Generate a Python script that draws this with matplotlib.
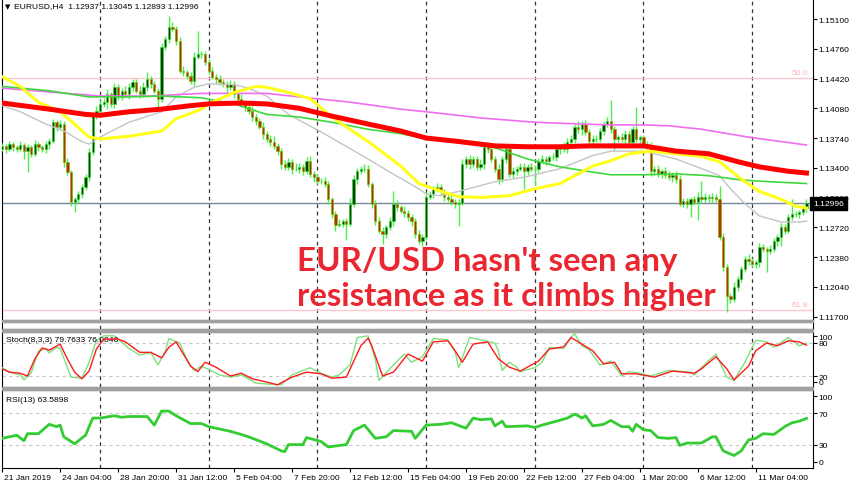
import matplotlib
matplotlib.use("Agg")
import matplotlib.pyplot as plt
import matplotlib.transforms as mtrans
from matplotlib.patches import Rectangle
import numpy as np

plt.rcParams['font.family'] = ['Liberation Sans', 'DejaVu Sans']

W, H = 852, 485
SMALL = 6.1

# EURUSD H4 closes, one per bar (21 Jan 12:00 -> 13 Mar 12:00)
closes = [
    1.1365, 1.1361, 1.1367, 1.1364, 1.1361, 1.1366, 1.1359, 1.1364, 1.1356, 1.1367, 1.1364, 1.1361, 1.1367, 1.1371,
    1.1392, 1.1387, 1.1390, 1.1347, 1.1335, 1.1301, 1.1304, 1.1310, 1.1318, 1.1329, 1.1358, 1.1399, 1.1405, 1.1413,
    1.1415, 1.1424, 1.1413, 1.1432, 1.1421, 1.1428, 1.1424, 1.1432, 1.1438, 1.1428, 1.1424, 1.1432, 1.1441, 1.1436, 1.1428, 1.1419,
    1.1478, 1.1487, 1.1501, 1.1499, 1.1485, 1.1451, 1.1449, 1.1445, 1.1439, 1.1467, 1.1470, 1.1470, 1.1461, 1.1451,
    1.1444, 1.1441, 1.1438, 1.1436, 1.1432, 1.1436, 1.1424, 1.1419, 1.1413, 1.1409, 1.1405, 1.1398, 1.1393, 1.1387, 1.1379,
    1.1373, 1.1370, 1.1365, 1.1359, 1.1344, 1.1341, 1.1347, 1.1339, 1.1339, 1.1341, 1.1336, 1.1348, 1.1333, 1.1329, 1.1325,
    1.1325, 1.1321, 1.1304, 1.1287, 1.1275, 1.1276, 1.1279, 1.1276, 1.1299, 1.1327, 1.1336, 1.1339, 1.1339, 1.1321, 1.1299,
    1.1279, 1.1268, 1.1264, 1.1272, 1.1279, 1.1299, 1.1295, 1.1291, 1.1288, 1.1284, 1.1279, 1.1264, 1.1256, 1.1261, 1.1307,
    1.1310, 1.1316, 1.1318, 1.1313, 1.1307, 1.1304, 1.1301, 1.1299, 1.1300, 1.1344, 1.1350, 1.1344, 1.1350, 1.1341, 1.1344,
    1.1364, 1.1361, 1.1350, 1.1339, 1.1327, 1.1350, 1.1361, 1.1333, 1.1336, 1.1339, 1.1341, 1.1336, 1.1341, 1.1339, 1.1339,
    1.1348, 1.1350, 1.1348, 1.1352, 1.1352, 1.1361, 1.1364, 1.1361, 1.1370, 1.1373, 1.1387, 1.1384, 1.1390, 1.1381, 1.1371,
    1.1373, 1.1373, 1.1382, 1.1390, 1.1393, 1.1384, 1.1373, 1.1375, 1.1373, 1.1379, 1.1370, 1.1384, 1.1373, 1.1375, 1.1367,
    1.1364, 1.1336, 1.1339, 1.1333, 1.1336, 1.1332, 1.1329, 1.1332, 1.1327, 1.1299, 1.1302, 1.1299, 1.1304, 1.1301, 1.1307,
    1.1304, 1.1307, 1.1305, 1.1307, 1.1304, 1.1261, 1.1227, 1.1193, 1.1190, 1.1204, 1.1213, 1.1224, 1.1236, 1.1233, 1.1230,
    1.1232, 1.1249, 1.1247, 1.1245, 1.1247, 1.1256, 1.1261, 1.1272, 1.1268, 1.1284, 1.1287, 1.1287, 1.1289, 1.12937, 1.12996,
]
first_open = 1.1362

# wick lengths in pips above / below the body
up_wick = [
    3, 2, 4, 3, 2, 5, 2, 3, 2, 5, 3, 2, 4, 3, 4, 3, 5, 3, 4, 2, 3, 3, 4, 4, 5, 4, 6,
    4, 5, 6, 3, 5, 4, 3, 6, 5, 4, 3, 5, 6, 8, 4, 3, 3, 5, 4, 12, 6, 3, 4, 5, 3, 4, 5, 26, 4, 3,
    3, 4, 3, 5, 4, 3, 4, 3, 4, 5, 3, 4, 6, 3, 4, 5, 3, 4, 6, 3, 4, 5, 4, 3, 6, 4, 3, 4, 5, 3,
    4, 3, 5, 4, 3, 4, 5, 3, 4, 6, 5, 4, 3, 5, 4, 3, 4, 5, 4, 3, 5, 14, 4, 3, 5, 4, 3, 4, 5, 3,
    5, 4, 3, 5, 4, 3, 4, 5, 3, 4, 6, 4, 5, 3, 4, 6, 3, 5, 4, 3, 5, 4, 3, 4, 5, 3, 4, 5, 3, 4,
    4, 3, 5, 4, 3, 5, 4, 3, 6, 4, 5, 3, 6, 4, 5, 3, 4, 5, 3, 4, 5, 25, 4, 3, 5, 4, 3, 4, 25, 3,
    3, 4, 5, 3, 4, 3, 5, 4, 3, 4, 5, 3, 4, 3, 4, 5, 18, 4, 3, 4, 3, 15, 4, 3, 4, 5, 3, 4, 3, 5,
    4, 3, 5, 4, 3, 5, 4, 3, 5, 4, 3, 17, 4, 3, 4, 5,
]
down_wick = [
    3, 4, 2, 5, 3, 2, 9, 24, 4, 3, 5, 3, 4, 6, 3, 5, 4, 6, 3, 5, 11, 4, 5, 3, 4, 3, 3,
    3, 4, 8, 3, 5, 3, 4, 3, 5, 4, 3, 4, 3, 4, 5, 3, 11, 4, 3, 4, 3, 5, 3, 4, 4, 3, 5, 3, 4, 3,
    4, 3, 5, 3, 4, 6, 3, 4, 5, 3, 4, 3, 5, 4, 3, 6, 4, 5, 3, 4, 5, 3, 4, 6, 3, 5, 4, 3, 4, 5,
    3, 4, 3, 5, 4, 7, 3, 4, 19, 3, 4, 5, 3, 4, 3, 5, 4, 3, 11, 4, 3, 5, 4, 3, 4, 5, 6, 4, 3, 5,
    4, 3, 5, 3, 4, 5, 3, 4, 5, 26, 3, 4, 5, 3, 4, 3, 5, 4, 3, 4, 5, 3, 4, 3, 5, 4, 3, 20, 4, 3,
    19, 4, 3, 5, 4, 3, 4, 5, 3, 4, 3, 5, 4, 6, 3, 4, 5, 3, 4, 5, 3, 4, 14, 3, 4, 5, 3, 4, 3, 5,
    4, 3, 5, 4, 3, 5, 4, 3, 5, 4, 3, 4, 5, 15, 4, 21, 4, 3, 4, 5, 3, 4, 5, 18, 4, 3, 5, 4, 3, 4,
    3, 4, 5, 3, 24, 4, 3, 5, 10, 4, 3, 4, 3, 4, 3, 4,
]

# moving averages, read at (bar, price)
ma_red_bars = [0, 13, 23, 27, 35, 44, 52, 57, 66, 73, 82, 91, 101, 110, 117, 126, 136, 145, 154, 162, 177, 186, 195, 203, 209, 217, 222]
ma_red = [1.1414, 1.1407, 1.1401, 1.1400, 1.1404, 1.1407, 1.1411, 1.1413, 1.1414, 1.1413, 1.1408, 1.1399, 1.1390, 1.1382,
          1.1374, 1.1370, 1.1365, 1.1364, 1.1364, 1.1365, 1.1365, 1.1359, 1.1356, 1.1347, 1.1341, 1.1336, 1.1334]
ma_magenta_bars = [0, 27, 41, 55, 73, 82, 96, 110, 117, 132, 147, 160, 168, 177, 184, 193, 206, 222]
ma_magenta = [1.1431, 1.1422, 1.1422, 1.1425, 1.1425, 1.1421, 1.1415, 1.1407, 1.1404, 1.1397, 1.1392, 1.1390, 1.1389,
              1.1389, 1.1388, 1.1384, 1.1375, 1.1366]
ma_green_bars = [0, 13, 24, 35, 44, 55, 64, 73, 82, 91, 101, 110, 117, 126, 136, 145, 154, 163, 168, 177, 186, 195, 204, 212, 222]
ma_green = [1.1433, 1.1428, 1.1421, 1.1421, 1.1422, 1.1420, 1.1413, 1.1401, 1.1398, 1.1392, 1.1384, 1.1379, 1.1373,
            1.1370, 1.1363, 1.1350, 1.1341, 1.1335, 1.1332, 1.1332, 1.1333, 1.1331, 1.1326, 1.1324, 1.1322]
ma_yellow_bars = [0, 5, 10, 16, 20, 24, 27, 35, 44, 48, 55, 57, 64, 70, 73, 79, 85, 91, 101, 110, 115, 122, 126, 132,
                  140, 147, 154, 163, 168, 173, 179, 186, 193, 198, 204, 209, 215, 219, 222]
ma_yellow = [1.1444, 1.1433, 1.1415, 1.1404, 1.1390, 1.1375, 1.1373, 1.1376, 1.1382, 1.1396, 1.1407, 1.1413, 1.1426,
             1.1433, 1.1432, 1.1426, 1.1419, 1.1398, 1.1370, 1.1342, 1.1322, 1.1312, 1.1307, 1.1306, 1.1308, 1.1316,
             1.1322, 1.1342, 1.1348, 1.1356, 1.1359, 1.1356, 1.1353, 1.1347, 1.1327, 1.1313, 1.1304, 1.1296, 1.1294]
ma_gray_bars = [0, 5, 12, 17, 22, 24, 27, 35, 44, 48, 53, 57, 64, 68, 73, 79, 88, 96, 101, 107, 115, 117, 121, 126,
                136, 145, 154, 163, 168, 177, 186, 195, 198, 201, 205, 209, 215, 220, 222]
ma_gray = [1.1411, 1.1404, 1.1390, 1.1382, 1.1370, 1.1367, 1.1375, 1.1392, 1.1404, 1.1421, 1.1432, 1.1436, 1.1435,
           1.1431, 1.1422, 1.1401, 1.1381, 1.1362, 1.1350, 1.1335, 1.1316, 1.1310, 1.1308, 1.1313, 1.1324, 1.1330,
           1.1339, 1.1354, 1.1359, 1.1359, 1.1350, 1.1336, 1.1331, 1.1316, 1.1299, 1.1285, 1.1278, 1.1278, 1.1279]

fib_50 = 1.1443
fib_618 = 1.11775
last_price = 1.12996

# Stochastic (8,3,3)
stoch_k_bars = [0, 2, 5, 6, 8, 10, 12, 13, 15, 16, 19, 22, 24, 26, 28, 31, 35, 38, 41, 43, 45, 46, 49, 51, 53, 55, 57,
                60, 63, 66, 68, 70, 74, 77, 80, 83, 85, 88, 91, 93, 96, 98, 101, 103, 104, 108, 111, 113, 116, 119,
                123, 125, 126, 129, 132, 136, 137, 138, 140, 142, 143, 147, 149, 151, 155, 157, 158, 160, 162, 165,
                168, 171, 173, 176, 179, 184, 190, 191, 195, 197, 200, 202, 205, 208, 211, 213, 217, 220, 222]
stoch_k = [35, 27, 22, 13, 25, 65, 70, 62, 72, 70, 18, 16, 45, 85, 93, 93, 70, 58, 63, 40, 65, 88, 80, 50, 30, 38, 32,
           22, 18, 22, 15, 7, 5, 4, 22, 30, 35, 25, 18, 22, 40, 90, 93, 50, 12, 40, 60, 45, 55, 88,
           86, 65, 35, 90, 86, 80, 65, 30, 45, 36, 28, 35, 45, 72, 70, 90, 97, 75, 68, 40,
           47, 20, 28, 25, 20, 30, 27, 22, 48, 60, 18, 12, 45, 85, 82, 72, 90, 75, 79.76]
stoch_d_bars = [0, 2, 5, 7, 9, 11, 13, 16, 18, 20, 22, 24, 26, 28, 32, 34, 38, 41, 44, 46, 48, 52, 54, 56, 59, 63, 66,
                69, 73, 76, 80, 84, 88, 91, 95, 99, 101, 102, 105, 108, 112, 116, 119, 123, 125, 127, 130, 134, 137,
                140, 143, 148, 151, 155, 157, 160, 163, 166, 169, 171, 175, 180, 185, 191, 193, 197, 200, 202, 206,
                208, 211, 214, 217, 220, 222]
stoch_d = [33, 27, 25, 20, 51, 71, 67, 78, 51, 27, 15, 29, 69, 87, 87, 82, 63, 63, 53, 72, 82, 38, 28, 45, 36, 20, 25,
           15, 9, 4, 18, 27, 24, 16, 18, 75, 89, 75, 20, 27, 60, 47, 82, 84, 66, 45, 78, 82, 51,
           36, 29, 47, 69, 73, 90, 78, 66, 42, 45, 24, 24, 18, 29, 25, 33, 55, 33, 13, 38,
           66, 80, 75, 84, 82, 76.08]

# RSI(13)
rsi_bars = [0, 4, 6, 7, 10, 13, 15, 16, 17, 20, 23, 25, 27, 31, 33, 35, 40, 42, 44, 46, 48, 52, 55, 57, 63, 66, 68,
            73, 77, 78, 79, 82, 83, 84, 88, 90, 95, 97, 100, 103, 106, 108, 113, 114, 117, 121, 124, 128, 130, 132,
            135, 136, 138, 139, 145, 147, 149, 153, 156, 158, 159, 160, 161, 163, 166, 168, 171, 173, 174, 175,
            177, 179, 181, 184, 186, 187, 189, 193, 196, 197, 199, 202, 204, 206, 208, 210, 213, 216, 218, 220, 222]
rsi = [38, 42, 35, 44, 44, 56, 53, 55, 40, 31, 42, 64, 64, 67, 65, 66, 66, 55, 73, 73, 67, 57, 57, 53, 47, 43, 40,
       31, 22, 21, 30, 30, 30, 39, 34, 27, 30, 48, 55, 38, 40, 48, 47, 38, 55, 56, 58, 51, 64, 62,
       63, 54, 60, 53, 54, 52, 55, 60, 64, 69, 67, 64, 67, 54, 56, 61, 53, 53, 47, 56,
       49, 48, 39, 38, 39, 29, 32, 32, 40, 40, 22, 16, 22, 36, 38, 44, 43, 53, 58, 60, 63.59]

week_starts = [27, 57, 87, 117, 147, 177, 207]
date_ticks = [0, 16, 32, 48, 64, 80, 96, 112, 128, 144, 160, 176, 192, 208]
date_labels = ["21 Jan 2019", "24 Jan 04:00", "28 Jan 20:00", "31 Jan 12:00", "5 Feb 04:00", "7 Feb 20:00",
               "12 Feb 12:00", "15 Feb 04:00", "19 Feb 20:00", "22 Feb 12:00", "27 Feb 04:00", "1 Mar 20:00",
               "6 Mar 12:00", "11 Mar 04:00"]
price_ticks = [1.11700, 1.12040, 1.12380, 1.12720, 1.13060, 1.13400, 1.13740, 1.14080, 1.14420, 1.14760, 1.15100]

assert len(closes) == len(up_wick) == len(down_wick) == 223

closes = np.array(closes)
idx = np.arange(len(closes))
opens = np.r_[first_open, closes[:-1]]
highs = np.maximum(opens, closes) + np.array(up_wick) * 1e-4
lows = np.minimum(opens, closes) - np.array(down_wick) * 1e-4
bull = closes >= opens

fig = plt.figure(figsize=(W / 100, H / 100), dpi=100)
fig.patch.set_facecolor('white')


def panel(x0, y0, x1, y1):
    a = fig.add_axes([x0 / W, 1 - y1 / H, (x1 - x0) / W, (y1 - y0) / H])
    a.set_xlim(-0.05, 223.8)
    for s in a.spines.values():
        s.set_linewidth(0.8)
        s.set_color('black')
    a.tick_params(axis='x', bottom=False, labelbottom=False)
    return a


ax = panel(2, 0, 813, 321)
ax_sep = panel(2, 323, 813, 330)
ax_st = panel(2, 333, 813, 388)
ax_rsi = panel(2, 391, 813, 469)
ax.spines['top'].set_visible(False)

# splitter bars between the windows
for y0, y1 in [(320.5, 323), (330, 333), (388, 391)]:
    fig.patches.append(Rectangle((2 / W, 1 - y1 / H), 811 / W, (y1 - y0) / H,
                                 transform=fig.transFigure, color='#a0a0a0', zorder=5))

# ---- main price window ----
ax.set_ylim(1.11660, 1.15329)
ax.yaxis.tick_right()
ax.set_yticks(price_ticks)
ax.set_yticklabels(['%.5f' % p for p in price_ticks])
ax.tick_params(axis='y', length=3, width=0.8, pad=1, labelsize=SMALL)

for wk in week_starts:
    for a in (ax, ax_sep, ax_st, ax_rsi):
        a.axvline(wk, color='#333333', lw=0.9, ls=(0, (3, 3)), zorder=1)

ax.axhline(fib_50, color='#ffc8d0', lw=1, zorder=1)
ax.axhline(fib_618, color='#ffc8d0', lw=1, zorder=1)
ax.text(222.5, fib_50 + 0.00018, '50.0', color='#ffb0bc', fontsize=SMALL, ha='right', va='bottom')
ax.text(222.5, fib_618 + 0.00018, '61.8', color='#ffb0bc', fontsize=SMALL, ha='right', va='bottom')
ax.axhline(last_price, color='#778899', lw=1, zorder=1)

ax.vlines(idx, lows, highs, color='#4ded4d', lw=1, zorder=3)
ax.bar(idx[bull], (closes - opens)[bull], bottom=opens[bull], width=0.62,
       color='#0b3d0b', edgecolor='#33dd33', lw=0.5, zorder=3)
ax.bar(idx[~bull], (closes - opens)[~bull], bottom=opens[~bull], width=0.62,
       color='#c62a00', edgecolor='#6fbf10', lw=0.5, zorder=3)

ax.plot(ma_gray_bars, ma_gray, color='#c4c4c4', lw=1, zorder=4)
ax.plot(ma_magenta_bars, ma_magenta, color='#f06cf0', lw=1.2, zorder=4)
ax.plot(ma_green_bars, ma_green, color='#3ed83e', lw=1.2, zorder=4)
ax.plot(ma_yellow_bars, ma_yellow, color='#ffff1a', lw=2.2, zorder=4)
ax.plot(ma_red_bars, ma_red, color='#ff0000', lw=3.6, zorder=4)

ax.text(1.0, last_price, '1.12996', transform=mtrans.blended_transform_factory(ax.transAxes, ax.transData),
        ha='left', va='center', color='white', fontsize=SMALL, clip_on=False, zorder=10,
        bbox=dict(boxstyle='square,pad=0.35', fc='black', ec='black'))

big = dict(fontsize=23.8, fontweight='bold', color='#ea2630', va='baseline', ha='left', zorder=6,
           family=['Lato', 'DejaVu Sans'])
ax.text(81.4, 1.1223, "EUR/USD hasn't seen any", **big)
ax.text(81.4, 1.11826, "resistance as it climbs higher", **big)

fig.text(5 / W, 1 - 7 / H, '\u25bc', fontsize=5, va='center', ha='left', family='DejaVu Sans')
fig.text(14 / W, 1 - 7 / H, 'EURUSD,H4  1.12937 1.13045 1.12893 1.12996', fontsize=SMALL, va='center', ha='left')

# ---- empty strip ----
ax_sep.set_yticks([])

# ---- stochastic ----
ax_st.set_ylim(0, 100)
for lv in (80, 20):
    ax_st.axhline(lv, color='#c8c8c8', lw=0.8, ls=(0, (3, 3)), zorder=1)
ax_st.plot(stoch_k_bars, stoch_k, color='#7ee07e', lw=1, zorder=3)
ax_st.plot(stoch_d_bars, stoch_d, color='#ff1a1a', lw=1, zorder=4)
ax_st.yaxis.tick_right()
ax_st.set_yticks([92, 80, 20, 10])
ax_st.set_yticklabels(['100', '80', '20', '0'])
ax_st.tick_params(axis='y', length=3, width=0.8, pad=1, labelsize=SMALL)
ax_st.text(0.005, 0.86, 'Stoch(8,3,3) 79.7633 76.0846', transform=ax_st.transAxes, fontsize=SMALL, va='center')

# ---- RSI ----
ax_rsi.set_ylim(0, 100)
for lv in (70, 30):
    ax_rsi.axhline(lv, color='#c8c8c8', lw=0.8, ls=(0, (3, 3)), zorder=1)
ax_rsi.plot(rsi_bars, rsi, color='#33cc33', lw=2, zorder=3)
ax_rsi.yaxis.tick_right()
ax_rsi.set_yticks([92, 70, 30, 8])
ax_rsi.set_yticklabels(['100', '70', '30', '0'])
ax_rsi.tick_params(axis='y', length=3, width=0.8, pad=1, labelsize=SMALL)
ax_rsi.text(0.005, 0.88, 'RSI(13) 63.5898', transform=ax_rsi.transAxes, fontsize=SMALL, va='center')

ax_rsi.set_xticks(date_ticks)
ax_rsi.set_xticklabels(date_labels, ha='left')
ax_rsi.tick_params(axis='x', bottom=True, labelbottom=True, length=3, width=0.8, pad=1.5, labelsize=SMALL)
shift = mtrans.ScaledTranslation(2 / 100, 0, fig.dpi_scale_trans)
for lbl in ax_rsi.get_xticklabels():
    lbl.set_transform(lbl.get_transform() + shift)

fig.savefig('out.png', dpi=100)
